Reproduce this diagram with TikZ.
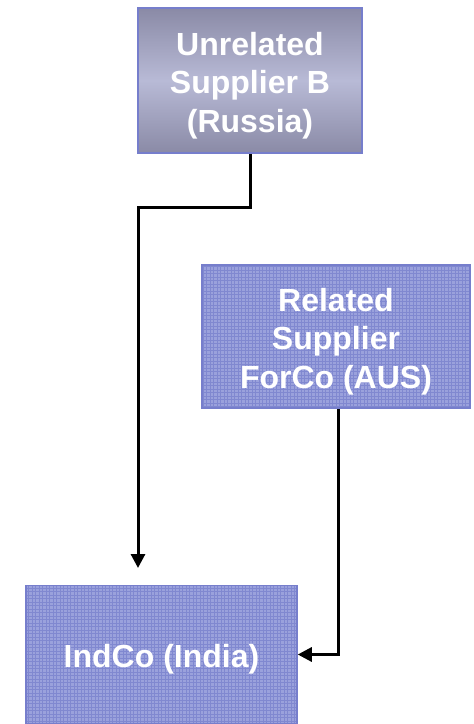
\documentclass[tikz,border=0pt]{standalone}
\usepackage{fontspec}
\setmainfont{Liberation Sans}
\usetikzlibrary{arrows.meta}
\definecolor{boxfill}{RGB}{154,161,220}
\definecolor{boxline}{RGB}{118,126,204}
\definecolor{gridline}{RGB}{128,136,208}
\definecolor{gradedge}{RGB}{138,138,166}
\definecolor{gradmid}{RGB}{184,186,214}
\tikzset{
  entity/.style={draw=boxline, line width=1.5pt, inner sep=0pt},
  caption/.style={inner sep=0pt, align=center, yshift=-5pt,
    text=white, font=\fontsize{32}{38.5}\selectfont\bfseries},
  gridbox/.style={entity, fill=boxfill,
    path picture={
      \draw[gridline, line width=0.5pt]
        (path picture bounding box.south west) grid[step=3.5pt]
        (path picture bounding box.north east);
      \draw[gridline, line width=0.9pt]
        (path picture bounding box.south west) grid[step=7pt]
        (path picture bounding box.north east);
    }},
  shadedbox/.style={entity, top color=gradedge, bottom color=gradedge, middle color=gradmid},
  conn/.style={draw=black, line width=3pt, -{Triangle[length=14pt,width=14pt]}}
}
\begin{document}
\begin{tikzpicture}[x=1pt,y=1pt]
  \useasboundingbox (0,0) rectangle (474,-724);
  \node[shadedbox, minimum width=224pt, minimum height=145pt,
        label={[caption]center:{Unrelated\\Supplier B\\(Russia)}}] (sb) at (250,-80.5) {};
  \node[gridbox, minimum width=268pt, minimum height=143pt,
        label={[caption]center:{Related\\Supplier\\ForCo (AUS)}}] (fc) at (336,-336.5) {};
  \node[gridbox, minimum width=271pt, minimum height=138pt,
        label={[caption]center:{IndCo (India)}}] (ind) at (161.5,-654.5) {};
  \coordinate (sbend) at (138,-568);
  \draw[conn] (sb.south) -- ++(0,-54) -| (sbend);
  \draw[conn] ([xshift=2pt]fc.south) |- (ind.east);
\end{tikzpicture}
\end{document}
